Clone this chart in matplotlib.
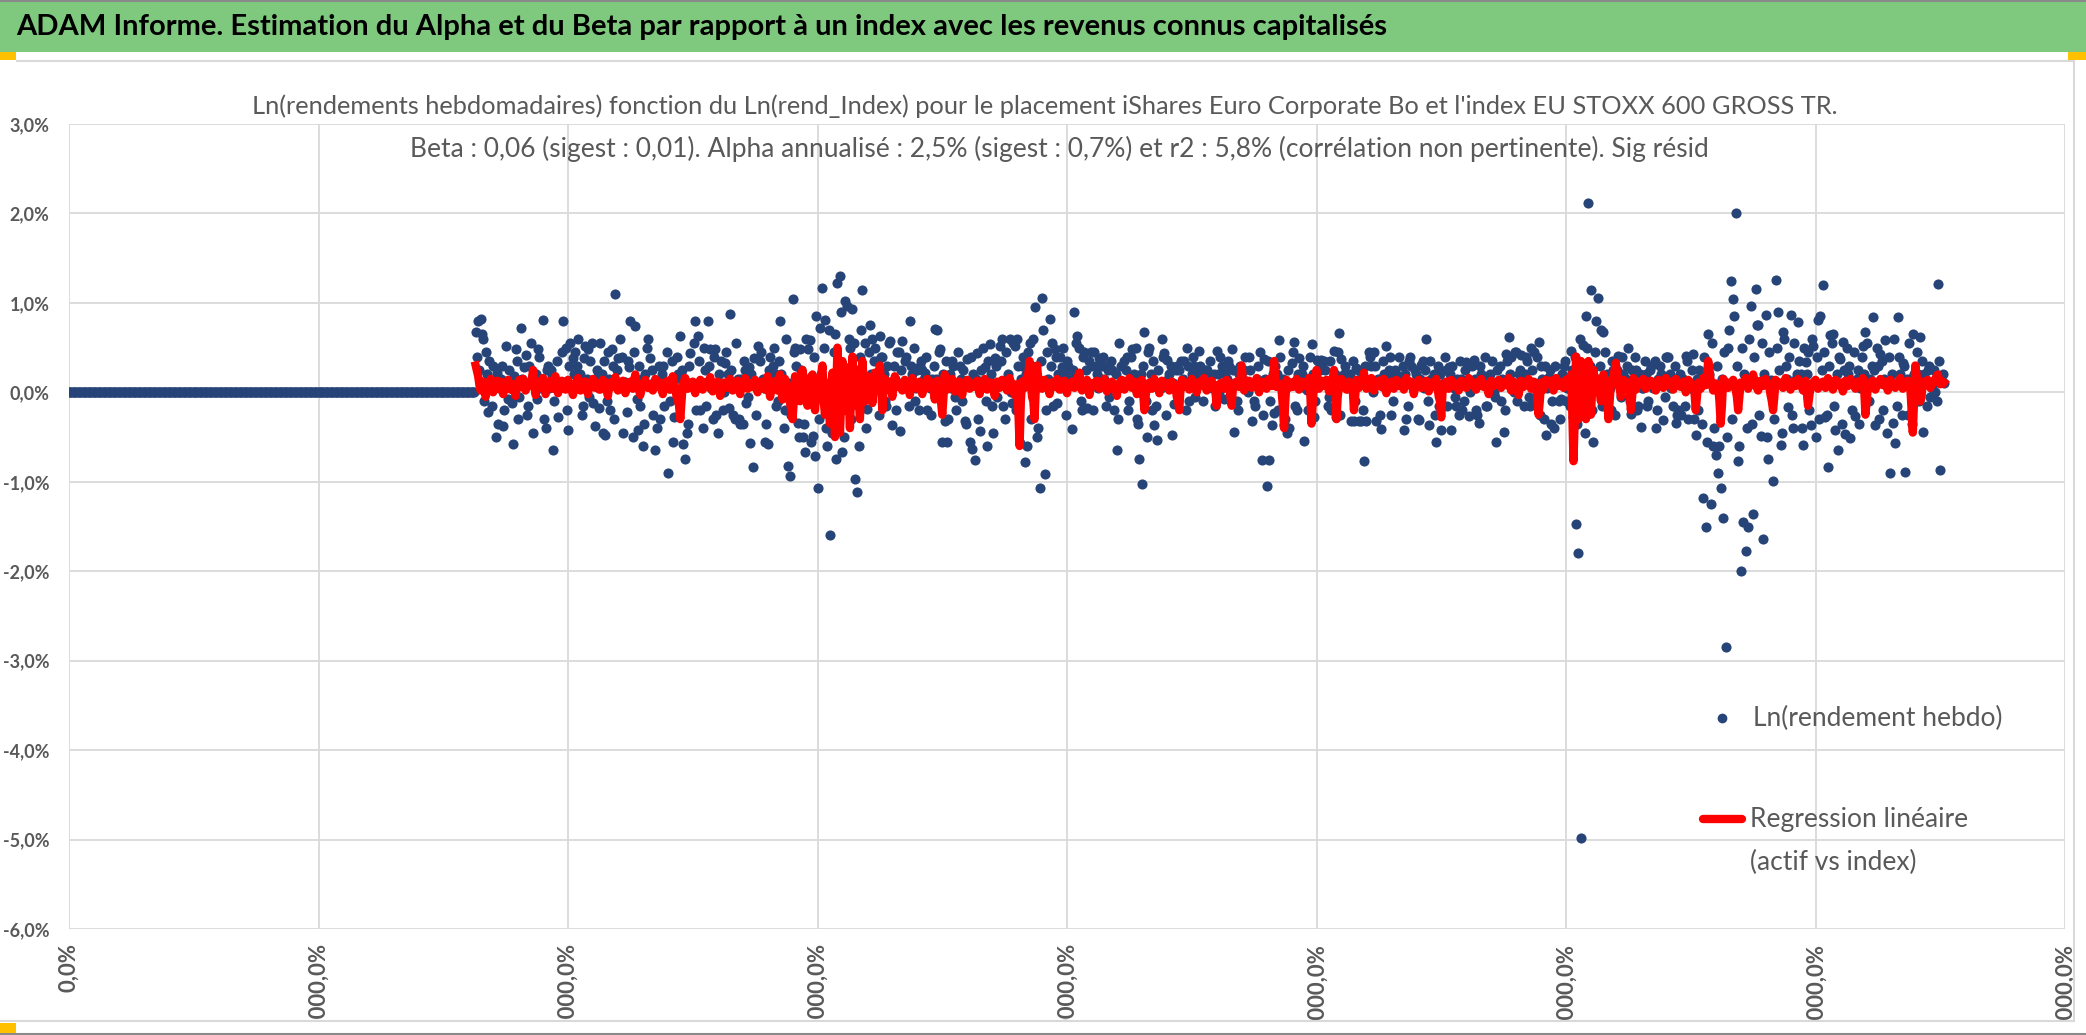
import numpy as np
import matplotlib
matplotlib.use("Agg")
import matplotlib.pyplot as plt
from matplotlib.patches import Rectangle
from matplotlib.lines import Line2D

W, H = 2086, 1035

# weeks before the fund had a price: log return is 0
n_flat = 326

# weekly log returns of the fund, in basis points (0.01 %)
weekly_bp = [
    68, 40, 80, 25, 82, 65, 60, -10, 45, 20, -22, 35, 5, -15, 30, 10, -50, 22, -35, 5,
    15, 30, -38, -20, 52, 8, -8, 25, 12, -12, -58, 18, 48, 35, -30, -5, 72, 15, 10, 28,
    42, -25, -15, 30, 55, 10, -45, 22, 20, -8, 48, 40, 5, 15, 81, -30, -40, 25, 30, 5,
    25, 18, -65, -10, 12, 35, -28, 5, 8, 45, 80, 12, 50, -20, -42, 30, 55, 8, 38, 20,
    45, 30, 60, 5, 20, -25, -15, 38, 52, 15, 48, -5, 35, 55, -12, 10, -38, 25, 18, -18,
    55, 20, -45, 35, -48, -10, 45, 15, -20, 48, 30, -30, 110, 25, 38, 5, 60, 40, -45, 12,
    12, -22, 35, 28, 80, 10, -50, 45, 74, -8, -42, 30, -15, 15, -60, -35, 20, 50, 60, 8,
    38, 25, -25, 12, -64, -40, 10, 30, -30, 20, 30, -15, 5, 45, -90, 5, -10, 35, -56, -28,
    15, 40, 20, -10, 63, 25, -58, 15, -74, -45, -35, 30, 44, 10, 10, 55, 80, -20, 63, 35,
    -20, 12, -40, 50, 25, -15, 80, 30, 48, 5, -30, 40, 48, -25, -45, 20, 10, 35, -20, 0,
    33, 45, 20, -18, 88, 25, -25, 10, -30, 55, 15, -30, -35, 15, -35, 35, 25, -12, -5, 28,
    -57, 20, -84, 38, 10, -25, 52, 10, 35, 45, 15, 5, -55, -35, -58, 25, 40, 15, 30, 50,
    20, -15, -10, 35, 80, 20, 5, -40, -20, 60, -82, 10, -93, -25, 104, 45, 50, 30, -34, -50,
    48, 25, -50, -35, -67, 60, 48, 15, 59, -55, -49, 40, -71, 85, -107, -30, 72, 20, 117, 50,
    81, -40, -60, 70, -160, -20, -45, 45, 65, -75, 122, 30, 130, 90, -67, -50, 102, 20, 96, 60,
    50, -30, 93, 55, -97, 25, -111, -60, 40, 70, 114, 10, 55, -40, -19, 45, 75, 20, 60, 35,
    50, 15, 35, -25, 63, 40, 40, 20, -10, -15, 30, 55, 57, 5, -36, 30, 15, -20, 45, 45,
    -43, 25, 57, 10, 35, 40, 10, -15, 80, 30, 20, 50, -10, 5, 25, -20, 30, 35, 25, 15,
    22, 40, -20, 10, 5, -25, 15, 30, 71, 15, 70, 45, 48, -10, -55, 20, -32, 35, -56, -30,
    20, 5, 35, 30, -5, -20, 10, 45, 30, 15, -10, 25, -32, -35, 37, 10, -56, 40, -63, 20,
    -76, 15, 44, -30, -43, 25, 10, 50, 28, -10, -60, 35, 54, 20, -15, -45, 38, 30, -5, 10,
    52, 35, 60, -15, -30, 45, 10, 20, 60, 0, -12, 55, 52, -20, 60, 30, -57, 15, 30, 40,
    -78, 20, -60, 45, 55, -30, 30, 60, 95, 10, -50, -40, -107, 35, 105, 70, -91, -20, 45, 15,
    82, 30, 55, -15, 48, 40, -12, 20, 40, 5, 28, 50, 20, -25, 35, 30, 10, 15, -41, 25,
    90, 55, 63, 20, 50, -10, -20, 40, 45, 25, -18, 10, 35, 45, 30, -20, 45, 30, 20, 5,
    38, 15, 30, 40, 15, -15, 29, 25, -5, 35, 25, 5, -20, 20, -65, -30, 55, 30, 10, 10,
    35, 25, 40, -20, -10, 40, 48, 15, 20, 50, -30, -35, -75, 20, -103, 30, 68, -10, -50, 45,
    50, 20, -20, 35, -36, -15, -53, 25, 10, 5, 60, 40, 44, -25, 36, 15, 20, 30, -48, 10,
    -13, 25, 30, 5, 25, 35, 10, 15, 35, -20, 50, 30, -10, 10, 20, 40, 30, -5, 15, 20,
    46, 30, 20, -10, 10, 25, 25, 15, 15, 35, 5, 5, 20, -15, 46, 20, 0, 40, 30, 10,
    -8, 20, 15, 35, 30, -5, 49, 25, -44, 10, -10, -20, 20, 30, 10, 15, 25, 40, 5, 0,
    40, 25, -32, 10, -10, -15, 15, 30, 10, 45, -76, -25, 37, 15, -105, 35, -76, -10, -37, 20,
    -23, 30, 20, -20, 59, 40, 5, 15, -36, -30, -45, 25, -40, 10, 33, 45, 56, -15, -20, 20,
    38, 15, 20, 30, -54, 5, 3, -20, 15, 40, 54, 20, -28, -10, 36, 35, 8, 25, 36, 10,
    35, 25, 10, -15, -5, 35, -20, 10, 46, 20, -28, 45, 66, -25, 37, 15, 20, 30, 10, 5,
    10, 20, -32, 35, -32, -10, 27, 25, -32, 15, -32, -20, -77, 30, -32, 10, 45, 40, 30, 0,
    45, 30, -32, 15, 10, -25, -41, 35, 20, 5, 52, 20, 25, 40, -25, -10, 15, 25, 20, 15,
    40, 10, 15, 30, -42, 20, -30, -15, 35, 40, 30, 5, 10, 25, 20, -30, -31, 15, 31, 35,
    5, 25, 60, -10, -36, 35, 15, 15, 20, -25, -56, 30, -15, 20, -42, 5, 10, 40, 25, -15,
    28, 20, -42, 30, 5, -5, -15, 15, -25, 35, 15, -20, -10, 25, 34, 10, -27, 0, 10, 30,
    36, 15, -20, -25, -34, 30, 20, 10, 10, 40, -15, -15, 15, 20, 5, 35, 0, -5, -55, 25,
    10, 30, -10, 15, -44, -20, 43, 35, 62, 20, 40, 5, 0, 45, 45, -10, 20, 25, 42, 15,
    -15, 20, 40, 35, -5, -15, 50, 25, 45, 10, -7, 40, 56, -25, 30, 15, -30, 30, -48, 5,
    17, 25, -35, -10, -40, 30, 10, 15, -10, -30, -8, 20, 29, 35, -10, 5, 5, -15, 46, 25,
    -28, 40, -147, -35, -180, 60, -498, 20, 53, -45, 85, 50, 212, 30, 114, -20, -56, 45, 80, 15,
    106, 30, 70, -15, 68, 45, 10, 20, -5, 5, -20, 35, 25, -25, 15, 25, 41, 10, -5, 40,
    20, 15, 15, 30, 50, -10, -24, 25, 10, 40, 25, -20, -15, 20, -39, 5, 5, 35, 20, -15,
    -10, 25, 29, 10, 5, 35, -40, -20, 15, 30, 20, 15, -31, -5, 39, 40, 39, 20, 5, 10,
    -15, 30, -34, -25, -20, 20, -25, 10, 15, -15, 41, 35, -30, 5, 5, 25, 43, -30, -48, 15,
    -20, 25, 10, -35, -118, 40, -150, -55, 65, 20, -125, 55, -60, -40, -70, 30, -90, -60, -107, 15,
    -140, 45, -285, -50, 50, 70, 125, -30, 104, 85, 200, 30, -77, -60, -200, 50, -145, 20, -177, -40,
    -150, 60, 96, -35, -136, 40, 115, 75, 75, -25, -49, 55, -164, 20, 86, -50, -75, 45, 14, 10,
    -99, -30, 126, 50, 90, 25, -59, -45, 67, 60, 30, 15, -16, 40, 87, -25, -40, 55, 15, 20,
    79, 35, 20, -40, -59, 50, 34, 20, 45, -20, -36, 60, 52, 10, -50, 40, 81, -30, 85, 25,
    120, 45, -28, -25, -83, 30, 64, 55, 65, -15, -42, 20, -65, 40, 37, -35, 56, 25, -47, 50,
    20, 30, -51, -20, 10, 45, -27, 15, 25, -35, 5, 40, 52, 20, 67, 55, -10, -10, 15, 30,
    84, 25, -36, 50, 30, -30, 43, 35, -20, 15, 59, -45, 10, 40, -90, 20, -34, 60, -57, -15,
    84, 40, 20, -25, 33, 30, -89, 15, -25, 55, 15, -35, 65, 20, -5, 45, 20, -10, 62, 35,
    -44, 20, 10, -15, 25, 30, -5, 5, 10, 25, 0, -10, 121, 35, -87, 15, 20, 10,
]

# fitted values alpha + beta * index return, in basis points
regress_bp = [
    30, 24, 18, 8, 2, 6, 12, 3, -5, 2, 8, 11, 15, 7, 0, 5, 10, 13, 4, 8,
    12, 5, -2, 4, 8, 11, 14, 9, 3, 6, 9, 2, -4, 7, 11, 14, 6, 10, 15, 8,
    2, 6, 10, 12, 7, 15, 25, 10, -3, 4, 12, 9, 5, 13, 16, 6, -2, 3, 9, 11,
    13, 8, 4, 10, 18, 5, -1, 4, 8, 13, 11, 7, 3, 9, 14, 8, 6, 2, -3, 6,
    10, 13, 16, 7, 2, 5, 9, 12, 12, 4, -2, 8, 7, 11, 15, 6, 5, 9, 10, 3,
    3, 9, 14, 11, 8, 2, -4, 7, 11, 8, 6, 13, 17, 10, 2, 5, 9, 12, 13, 6,
    -1, 4, 8, 10, 12, 8, 4, 14, 20, 9, 7, 2, -3, 6, 10, 11, 14, 7, 5, 9,
    9, 6, 2, 8, 15, 10, 6, 9, 11, 4, -2, 5, 8, 12, 13, 7, 3, 10, 18, 8,
    5, -5, -8, -15, -30, -10, 10, 12, 16, 9, 4, 7, 9, 11, 12, 4, -1, 6, 7, 10,
    14, 8, 3, 6, 10, 12, 6, 9, 17, 5, 1, 10, 8, 3, 12, 7, -4, 6, 9, 11,
    11, 7, 5, 9, 15, 8, 2, 6, 9, 12, 13, 4, -2, 6, 7, 11, 16, 8, 4, 10,
    10, 8, 6, 11, 14, 5, 0, 9, 8, 10, 12, 6, 3, 12, 18, 4, -5, 3, 9, 7,
    13, 6, 2, 10, 20, 4, -8, 7, 15, 10, 5, -5, -12, -20, -30, -10, 18, 5, 6, 12,
    -10, 8, 25, 12, 4, -5, -15, 2, 12, 18, 20, -5, -20, 0, 8, 15, 15, 20, 30, -10,
    -25, 5, 10, -10, -35, 10, 22, -15, -50, 0, 50, 10, -45, -10, 35, 5, -20, 8, 28, -5,
    -40, 0, 40, 10, -15, 5, 20, -5, -30, 8, 35, 12, -10, 2, 18, 6, 5, 10, -12, 5,
    22, 10, 8, 15, 30, 5, -20, 6, 15, 8, 3, 9, 12, 4, -5, 10, 18, 11, 7, 6,
    10, 7, 2, 10, 14, 8, 6, 9, -3, 5, 16, 12, 9, 6, 4, 9, 12, 7, -2, 8,
    8, 11, 15, 9, 5, 7, 11, 3, -8, 5, 13, 10, 7, -10, -25, -5, 20, 8, 3, 9,
    10, 6, 15, 9, 1, 7, 9, 12, 12, 5, -3, 8, 8, 11, 14, 6, 4, 9, 10, 7,
    6, 10, 13, 7, -2, 6, 9, 12, 15, 8, 3, 9, 11, 5, 7, 10, -4, 6, 12, 8,
    5, 9, 14, 10, 8, 5, 2, 8, 16, 11, 10, 4, -3, 7, 9, -20, -60, -10, 12, 8,
    5, 12, 18, 20, 35, 10, -5, -10, -30, 5, 30, 15, 10, 7, 4, 9, 14, 6, 8, 10,
    -2, 7, 11, 8, 6, 12, 15, 9, 3, 6, 10, 11, 13, 5, -1, 8, 8, 10, 12, 7,
    5, 10, 16, 18, 22, 8, 2, 6, 9, 11, 14, 5, -3, 7, 10, 9, 7, 12, 13, 8,
    4, 9, 11, 7, 15, 10, 1, 6, 9, 11, 12, 8, 6, 5, -4, 9, 10, 12, 14, 7,
    3, 6, 8, 11, 16, 9, 5, 8, 12, 5, -2, 7, 9, 10, 14, 0, -20, -5, 7, 9,
    11, 8, 4, 10, 15, 6, 8, 9, -1, 7, 13, 12, 6, 8, 10, 5, 2, 9, 12, 7,
    9, 6, -5, -10, -20, 5, 14, 9, 6, 8, 11, 7, 3, 10, 15, 6, 8, 4, 0, 9,
    12, 10, 7, 8, 16, 6, 2, 9, 10, 11, 13, 7, 5, 0, -15, 5, 9, 10, 11, 8,
    4, 9, 14, 6, 8, -5, -15, 5, 10, 11, 12, 8, 6, 15, 30, 12, 2, 7, 9, 10,
    13, 8, 5, 9, 11, 7, 16, 5, 0, 10, 8, 6, 12, 9, 4, 11, 15, 8, 7, 10,
    35, 15, 6, 9, 10, 7, 2, -15, -40, -10, 14, 8, 5, 10, 11, 6, 8, 11, 15, 9,
    3, 7, 12, 9, 7, 11, 10, 8, 16, 0, -35, -10, 8, 15, 25, 10, 4, 8, 13, 7,
    9, 10, 14, 8, 1, 6, 11, 15, 25, 5, -30, -5, 6, 10, 15, 9, 10, 7, 3, 8,
    12, 9, 8, 5, -20, -5, 14, 10, 5, 8, 9, 12, 22, 10, 4, 7, 11, 9, 16, 10,
    2, 6, 10, 11, 13, 9, 6, 10, 15, 8, -1, 6, 9, 11, 12, 7, 4, 9, 14, 10,
    7, 8, 11, 7, 3, 10, 16, 11, 8, 9, 12, 6, -2, 5, 10, 12, 14, 8, 5, 9,
    9, 11, 13, 7, 1, 6, 11, 9, 6, 10, 15, 5, -5, -10, -28, 0, 8, 10, 12, 9,
    4, 8, 14, 10, 7, 9, 10, 6, 2, 7, 13, 11, 9, 8, 5, 10, 16, 12, 8, 9,
    11, 7, 3, 8, 12, 13, 15, 10, 6, 8, 9, 4, -2, 6, 13, 10, 7, 9, 10, 11,
    14, 10, 5, 8, 11, 9, 8, 12, 16, 8, 2, 7, 12, 10, 9, 4, -3, 6, 13, 10,
    6, 8, 10, 12, 15, 9, 4, 7, 12, 10, 8, -5, -25, -10, 11, 6, 3, 9, 14, 11,
    9, 10, 13, 8, 2, 9, 16, 11, 7, 9, 11, 8, 5, 10, 14, 12, 10, 14, 20, -20,
    -77, -30, 40, 0, -30, 5, 35, 30, 30, 0, -30, 5, 35, 0, -25, 5, 25, 15, 10, 12,
    15, 0, -10, 8, 20, 12, 5, -5, -30, -10, 12, 15, 18, 25, 33, 20, 8, 5, -5, 8,
    14, 10, 6, 9, 11, 0, -20, -5, 16, 10, 3, 8, 12, 11, 9, 12, 15, 9, 4, 7,
    10, 12, 13, 10, 7, 5, 2, 8, 14, 12, 11, 8, 5, 10, 16, 12, 8, 10, 12, 9,
    3, 9, 15, 12, 9, 7, 6, 9, 12, 8, 0, 7, 14, 12, 10, 9, 7, 0, -20, -5,
    11, 8, 4, 10, 16, 12, 8, 20, 35, 25, 13, 8, 2, 6, 10, 8, 6, -10, -35, -15,
    15, 13, 12, 8, 5, 7, 10, 12, 14, 9, 3, -5, -20, -5, 11, 10, 8, 12, 16, 10,
    4, 8, 12, 15, 20, 14, 9, 5, 2, 8, 13, 10, 7, 11, 15, 12, 10, 6, -3, -10,
    -20, -5, 14, 11, 8, 9, 11, 8, 5, 10, 16, 13, 10, 7, 3, 8, 12, 10, 7, 11,
    15, 12, 9, 6, 2, 8, 13, 0, -15, -5, 6, 9, 11, 12, 14, 9, 4, 7, 10, 11,
    12, 8, 5, 10, 16, 12, 9, 6, 3, 9, 14, 11, 8, 10, 11, 6, 1, 7, 13, 10,
    7, 11, 15, 12, 10, 7, 4, 8, 12, 10, 9, 12, 16, 5, -25, -10, 6, 8, 11, 12,
    13, 8, 3, 7, 10, 12, 15, 11, 8, 10, 12, 7, 2, 8, 14, 11, 9, 7, 5, 8,
    11, 13, 16, 10, 4, 7, 10, 11, 13, 9, 6, -20, -45, -10, 30, 20, 7, 0, -10, -5,
    12, 10, 8, 11, 14, 9, 5, 8, 10, 12, 15, 18, 20, 15, 9, 10, 12, 11,
]

y_ticks = [-0.06, -0.05, -0.04, -0.03, -0.02, -0.01, 0.0, 0.01, 0.02, 0.03]
x_ticks = [0, 200, 400, 600, 800, 1000, 1200, 1400, 1600]

main_title = ("ADAM Informe. Estimation du Alpha et du Beta par rapport à un index "
              "avec les revenus connus capitalisés")
chart_title_1 = ("Ln(rendements hebdomadaires) fonction du Ln(rend_Index) pour le placement "
                 "iShares Euro Corporate Bo et l'index EU STOXX 600 GROSS TR.")
chart_title_2 = ("Beta : 0,06 (sigest : 0,01). Alpha annualisé : 2,5% (sigest : 0,7%) et r2 : "
                 "5,8% (corrélation non pertinente). Sig résid")

FONT = ['Lato', 'DejaVu Sans']
GREY = '#595959'
BLUE = '#264478'


def pct(v):
    return f"{v * 100:.1f}%".replace('.', ',')


def fx(px):
    return px / W


def fy(py):
    return 1 - py / H


plt.rcParams['font.family'] = FONT

y_act = np.array(weekly_bp) / 10000.0
y_fit = np.array(regress_bp) / 10000.0
x_all = np.arange(n_flat + len(y_act))
y_all = np.concatenate([np.zeros(n_flat), y_act])
x_act = x_all[n_flat:]

fig = plt.figure(figsize=(W / 100, H / 100), dpi=100)
ax = fig.add_axes([fx(69), fy(929), fx(2065) - fx(69), fy(124) - fy(929)])

# Excel draws the regression series after the scatter series
ax.plot(x_all, y_all, 'o', ms=7.3, color=BLUE, mec='none', zorder=2)
ax.plot(x_act, y_fit, color='#FF0000', lw=6, solid_joinstyle='round', zorder=3)

ax.set_xlim(0, 1600)
ax.set_ylim(-0.06, 0.03)
ax.set_yticks(y_ticks)
ax.set_yticklabels([pct(v) for v in y_ticks])
ax.set_xticks(x_ticks)
ax.set_xticklabels([pct(v) for v in x_ticks], rotation=90)
ax.grid(True, color='#D9D9D9', lw=1.3)
ax.set_axisbelow(True)
for s in ax.spines.values():
    s.set_visible(False)
ax.tick_params(axis='y', length=0, pad=14, labelsize=13, labelcolor=GREY)
ax.tick_params(axis='x', length=0, pad=10, labelsize=16, labelcolor=GREY)
for lab in ax.get_xticklabels() + ax.get_yticklabels():
    lab.set_fontweight('bold')

# legend, Excel style: no frame, handle next to first line
fig.add_artist(Line2D([fx(1722)], [fy(718)], marker='o', ms=6, color=BLUE, ls='none'))
fig.text(fx(1753), fy(718), 'Ln(rendement hebdo)', ha='left', va='center',
         fontsize=19, color=GREY)
fig.add_artist(Line2D([fx(1703), fx(1742)], [fy(819), fy(819)], lw=6, color='#FF0000',
                      solid_capstyle='round'))
fig.text(fx(1750), fy(819), 'Regression linéaire', ha='left', va='center',
         fontsize=19, color=GREY)
fig.text(fx(1750), fy(862), '(actif vs index)', ha='left', va='center',
         fontsize=19, color=GREY)

# titles
fig.text(fx(1045), fy(106), chart_title_1, ha='center', va='center', fontsize=18.25, color=GREY)
fig.text(fx(1059), fy(149), chart_title_2, ha='center', va='center', fontsize=19, color=GREY)

# green banner
fig.add_artist(Rectangle((0, fy(52)), 1, 52 / H, transform=fig.transFigure,
                         facecolor='#7FC97F', edgecolor='none', zorder=0))
fig.add_artist(Line2D([0, 1], [fy(1), fy(1)], color='#8a8a8a', lw=1.5))
fig.text(fx(16), fy(27), main_title, ha='left', va='center', fontsize=21,
         fontweight='bold', color='black')

# chart area borders and the clipped bottom strip
fig.add_artist(Rectangle((0, 0), 1, (H - 1021) / H, transform=fig.transFigure,
                         facecolor='white', edgecolor='none', zorder=5))
fig.add_artist(Line2D([fx(17), fx(2074)], [fy(61), fy(61)], color='#D9D9D9', lw=1.5, zorder=6))
fig.add_artist(Line2D([0, fx(2074)], [fy(1021), fy(1021)], color='#D9D9D9', lw=1.5, zorder=6))
fig.add_artist(Line2D([fx(2074), fx(2074)], [fy(61), fy(1021)], color='#D9D9D9', lw=1.5, zorder=6))
fig.add_artist(Line2D([0, 1], [fy(1034), fy(1034)], color='#8a8a8a', lw=1.5, zorder=6))
for x0, y0, w, h in [(0, 60, 16, 8), (0, 1033, 16, 10), (2068, 60, 18, 8)]:
    fig.add_artist(Rectangle((fx(x0), fy(y0)), w / W, h / H, transform=fig.transFigure,
                             facecolor='#FFC000', edgecolor='none', zorder=7))

fig.savefig('out.png', dpi=100)
